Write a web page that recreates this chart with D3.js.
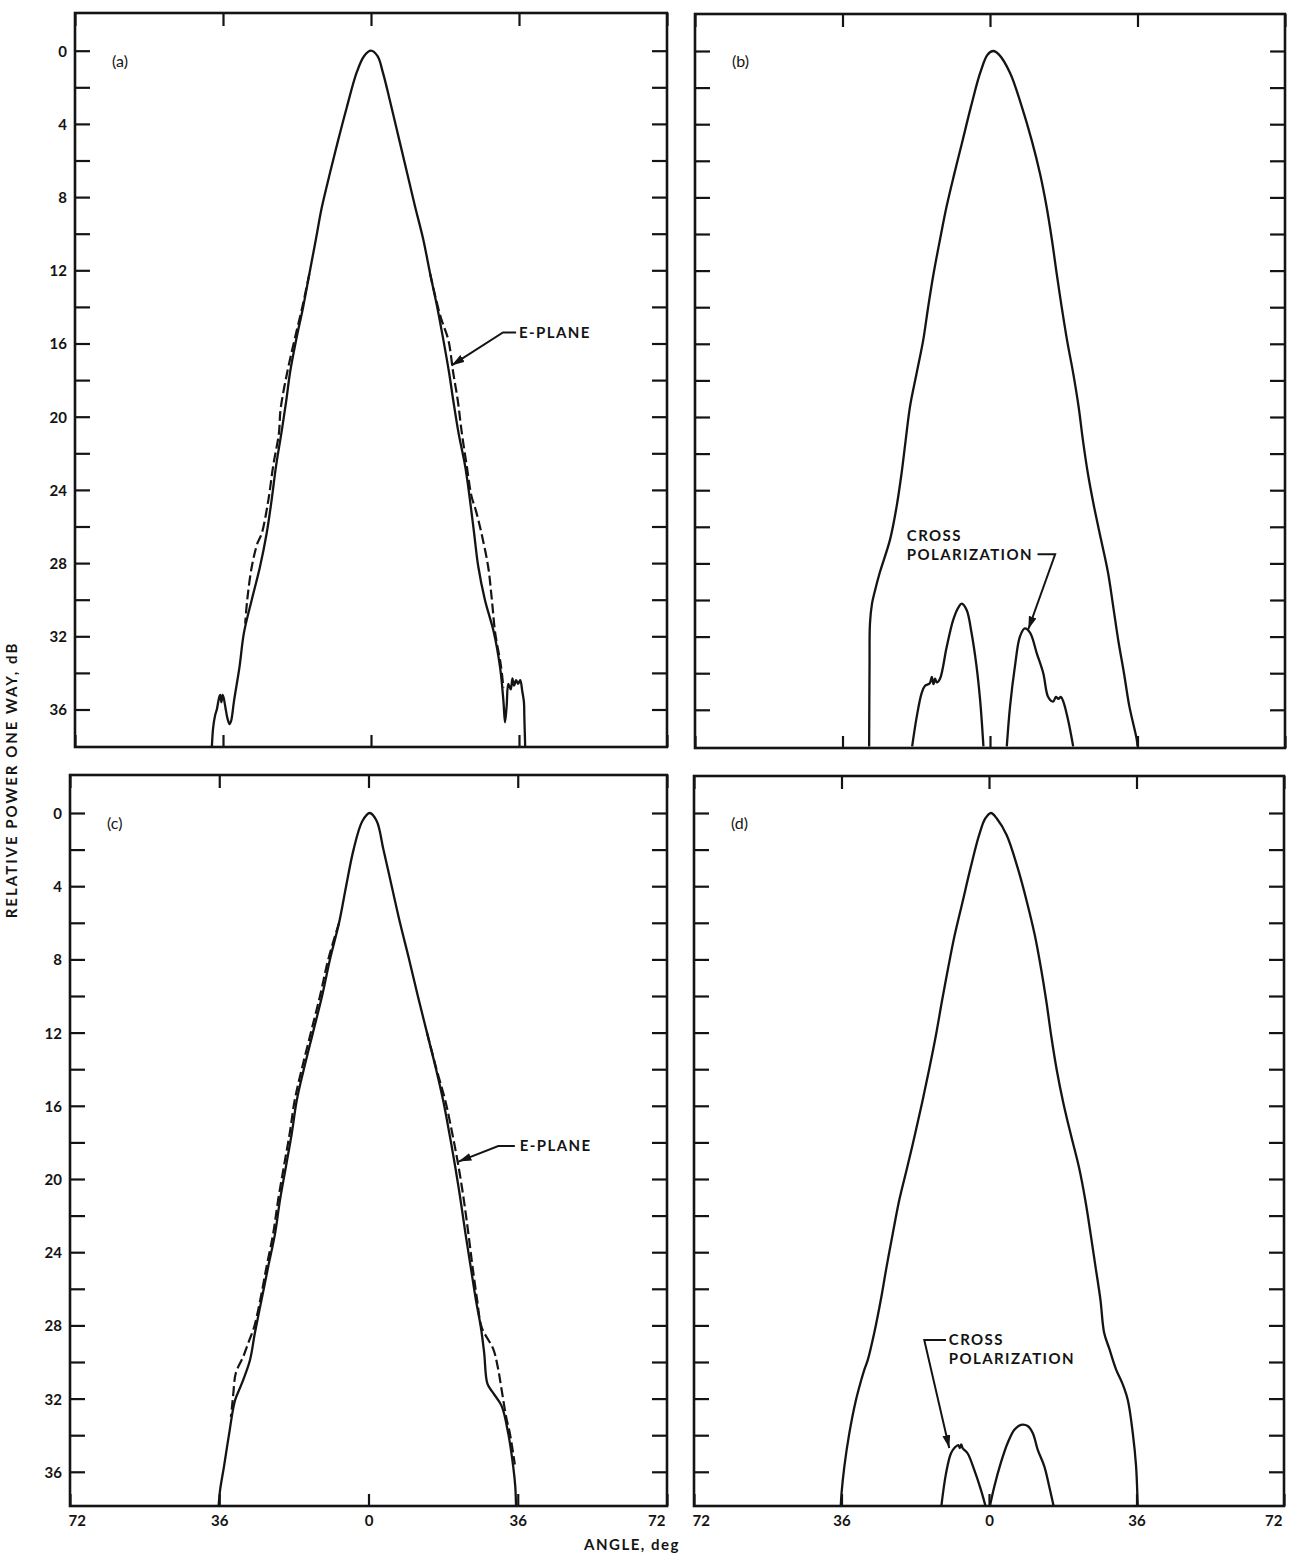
<!DOCTYPE html>
<html>
<head>
<meta charset="utf-8">
<script src="https://cdn.jsdelivr.net/npm/d3@7/dist/d3.min.js"></script>
<style>
  body { margin: 0; background: #fff; }
  svg text { font-family: Lato, "DejaVu Sans", sans-serif; font-weight: 700; fill: #141414; }
</style>
</head>
<body>
<script>
// axis values
const angleTicks = [-72, -36, 0, 36, 72];
const angleLabels = ["72", "36", "0", "36", "72"];
const dbTicks = [0, 2, 4, 6, 8, 10, 12, 14, 16, 18, 20, 22, 24, 26, 28, 30, 32, 34, 36];
const dbLabels = [0, 4, 8, 12, 16, 20, 24, 28, 32, 36];

// (a) main pattern (solid) and E-plane (dashed), [angle deg, dB down]
const aMain = [[-38.7,38.0],[-38.4,37.0],[-37.9,36.3],[-37.5,36.0],[-37.0,35.4],[-36.7,35.2],[-36.4,35.6],
  [-36.1,35.2],[-35.8,35.4],[-35.4,35.9],[-34.9,36.5],[-34.4,36.8],[-34.0,36.6],[-33.3,35.5],[-32.0,33.7],
  [-30.9,31.8],[-29.0,30.0],[-27.0,28.2],[-25.4,26.4],[-24.2,24.6],[-23.1,22.7],[-21.8,20.9],[-20.6,19.1],
  [-19.7,17.6],[-18.2,15.8],[-16.5,14.0],[-15.0,12.2],[-13.4,10.3],[-12.0,8.6],[-10.0,6.7],[-8.0,4.9],
  [-5.9,3.1],[-3.5,1.2],[-1.7,0.3],[0.0,0.0],[1.6,0.3],[2.9,1.2],[5.0,3.1],[6.9,4.9],[8.8,6.7],[10.7,8.5],
  [12.7,10.3],[14.4,12.2],[16.1,14.0],[17.6,15.8],[19.0,17.6],[20.0,19.1],[21.3,20.9],[22.9,22.7],[24.1,24.6],
  [25.1,26.4],[26.1,28.2],[27.7,30.0],[29.9,31.8],[31.4,33.7],[32.2,35.5],[32.6,36.7],[33.0,35.8],[33.4,34.6],
  [34.0,34.9],[34.4,34.3],[34.8,34.7],[35.3,34.4],[35.8,34.6],[36.3,34.4],[36.8,35.0],[37.2,35.6],[37.3,36.4],
  [37.5,38.0]];
const aEPlaneLeft = [[-15.0,12.2],[-16.7,14.0],[-18.6,15.8],[-20.4,17.6],[-22.0,19.6],[-22.4,20.9],[-23.8,22.7],
  [-25.0,24.6],[-26.6,26.4],[-27.6,26.9],[-29.0,28.2],[-30.1,30.0],[-30.6,31.3]];
const aEPlaneRight = [[14.4,12.2],[15.4,13.2],[17.0,14.6],[18.8,15.8],[20.0,17.6],[21.1,19.1],[22.1,20.9],
  [23.3,22.7],[24.4,24.3],[25.6,25.2],[26.9,26.4],[28.5,28.2],[29.4,30.0],[30.2,31.8],[31.6,33.6],[32.2,34.8]];

// (b) main pattern and cross polarization lobes
const bMain = [[-29.5,38.0],[-29.4,33.5],[-29.3,31.3],[-28.8,30.2],[-28.2,29.6],[-26.9,28.5],[-24.4,26.7],
  [-22.8,24.9],[-21.6,23.1],[-20.6,21.3],[-19.5,19.4],[-17.9,17.6],[-16.3,15.8],[-15.1,14.0],[-13.8,12.2],
  [-12.2,10.3],[-10.6,8.5],[-8.7,6.7],[-6.7,4.9],[-4.6,3.0],[-2.4,1.2],[-0.6,0.2],[0.8,0.0],[2.2,0.2],
  [4.9,1.2],[7.7,3.0],[10.2,4.9],[12.2,6.7],[13.8,8.5],[15.1,10.3],[16.3,12.2],[17.5,14.0],[18.8,15.8],
  [20.3,17.6],[21.6,19.4],[22.7,21.3],[23.9,23.1],[25.4,24.9],[27.1,26.7],[28.8,28.5],[30.1,30.4],
  [31.3,32.2],[32.7,34.0],[34.0,35.8],[35.8,37.6],[36.0,38.0]];
const bCrossLeft = [[-19.0,38.0],[-17.9,36.4],[-16.7,35.1],[-15.9,34.7],[-14.7,34.55],[-14.2,34.2],[-13.8,34.6],
  [-13.4,34.3],[-13.0,34.5],[-12.2,34.3],[-10.6,32.6],[-9.0,31.1],[-7.7,30.4],[-6.9,30.2],[-5.7,30.55],
  [-4.5,31.8],[-3.3,33.6],[-2.4,35.5],[-1.6,38.0]];
const bCrossRight = [[4.1,38.0],[4.9,35.8],[6.1,33.6],[7.3,32.0],[8.5,31.55],[9.8,31.8],[11.4,32.9],[13.0,34.0],
  [14.2,35.3],[15.4,35.55],[16.1,35.3],[16.7,35.4],[17.3,35.3],[17.9,35.55],[19.1,36.6],[20.3,38.0]];

// (c) main pattern (solid) and E-plane (dashed)
const cMain = [[-36.2,38.0],[-35.8,37.0],[-34.85,35.7],[-33.6,33.9],[-32.2,32.1],[-30.6,31.2],[-28.6,29.9],
  [-27.4,28.4],[-25.8,26.6],[-24.2,24.8],[-22.55,23.0],[-21.35,21.15],[-19.9,19.3],[-18.5,17.5],[-17.3,15.7],
  [-15.6,14.0],[-13.4,12.0],[-11.2,10.0],[-9.3,8.0],[-7.1,6.0],[-5.4,4.0],[-3.6,2.0],[-1.5,0.45],[0.3,0.0],
  [2.0,0.45],[3.6,2.0],[5.6,4.0],[7.6,6.0],[9.8,8.0],[11.9,10.0],[14.1,12.0],[16.3,14.0],[18.0,15.7],
  [19.5,17.5],[20.9,19.3],[22.2,21.15],[23.4,23.0],[24.65,24.8],[25.9,26.6],[27.1,28.1],[27.9,29.5],
  [28.7,31.2],[30.1,31.7],[32.1,32.4],[33.7,33.9],[34.9,35.7],[35.4,36.8],[35.6,38.0]];
const cEPlaneLeft = [[-7.1,6.0],[-9.7,8.0],[-11.7,10.0],[-13.9,12.0],[-16.1,14.0],[-17.8,15.7],[-19.0,17.5],
  [-20.4,19.3],[-21.8,21.15],[-23.0,23.0],[-24.6,24.8],[-26.1,26.6],[-27.6,28.1],[-28.9,28.9],[-30.2,29.7],
  [-32.0,30.6],[-32.6,31.7],[-32.9,32.4],[-33.2,33.0]];
const cEPlaneRight = [[14.1,12.0],[16.4,14.0],[18.5,15.7],[20.2,17.5],[21.7,19.3],[23.0,21.15],[24.1,23.0],
  [25.1,24.8],[26.2,26.6],[27.3,28.1],[30.1,29.3],[31.2,30.3],[32.1,31.5],[33.2,33.0],[34.1,33.9],
  [34.9,35.0],[35.3,35.6]];

// (d) main pattern and cross polarization lobes
const dMain = [[-36.2,38.0],[-36.0,37.2],[-35.3,35.7],[-34.1,33.9],[-32.5,32.1],[-31.2,31.0],[-30.4,30.4],
  [-29.6,29.9],[-28.0,28.4],[-26.4,26.6],[-25.0,24.8],[-23.5,23.0],[-21.9,21.15],[-20.0,19.4],[-18.1,17.6],
  [-16.3,15.8],[-14.6,14.0],[-13.0,12.2],[-11.5,10.3],[-10.0,8.5],[-8.4,6.7],[-6.5,4.9],[-4.5,3.0],[-2.4,1.2],
  [-0.9,0.3],[0.5,0.0],[1.9,0.3],[4.3,1.2],[7.0,3.0],[9.3,4.9],[11.2,6.7],[12.7,8.5],[14.0,10.3],[15.2,12.2],
  [16.5,14.0],[18.1,15.8],[20.0,17.6],[22.0,19.4],[23.5,21.15],[24.8,23.0],[26.0,24.8],[27.2,26.6],
  [28.1,28.4],[29.4,29.3],[31.0,30.4],[32.6,31.2],[33.9,32.1],[35.1,33.9],[35.9,35.7],[36.3,37.8],[36.35,38.0]];
const dCrossLeft = [[-11.7,38.0],[-10.5,36.1],[-9.3,35.0],[-8.3,34.66],[-7.5,34.54],[-7.1,34.7],[-6.8,34.5],
  [-6.4,34.72],[-5.2,35.0],[-3.6,35.9],[-1.95,37.0],[-0.7,38.0]];
const dCrossRight = [[0.1,38.0],[1.3,36.8],[2.9,35.5],[4.6,34.4],[6.2,33.7],[7.8,33.44],[9.45,33.5],
  [10.7,33.9],[11.9,34.8],[13.5,35.7],[14.7,36.8],[15.9,38.0]];

// annotations: label lines, text anchor, leader (tie -> elbow -> tip) in [angle, dB]
const aNote = { lines: ["E-PLANE"], text: [36.0, 15.4], leader: [[35.3,15.4],[32.1,15.4],[19.6,17.2]] };
const bNote = { lines: ["CROSS", "POLARIZATION"], text: [-20.3, 26.5], leader: [[11.6,27.5],[15.9,27.5],[9.35,31.6]] };
const cNote = { lines: ["E-PLANE"], text: [36.5, 18.2], leader: [[35.3,18.2],[31.3,18.2],[21.7,19.05]] };
const dNote = { lines: ["CROSS", "POLARIZATION"], text: [-9.8, 28.8], leader: [[-10.5,28.8],[-15.8,28.8],[-9.7,34.7]] };

const W = 1289, H = 1562;
const pxPerDb = 18.3;

const panels = [
  { tag: "(a)", x0: 75, x1: 667, y0: 13, y1: 747, zero: 50.7, left: true, bottom: false,
    curves: [{ d: aMain }, { d: aEPlaneLeft, dash: true }, { d: aEPlaneRight, dash: true }], note: aNote },
  { tag: "(b)", x0: 695, x1: 1285, y0: 14, y1: 748, zero: 51, left: false, bottom: false,
    curves: [{ d: bMain }, { d: bCrossLeft }, { d: bCrossRight }], note: bNote },
  { tag: "(c)", x0: 70, x1: 667, y0: 775, y1: 1506, zero: 813, left: true, bottom: true,
    curves: [{ d: cMain }, { d: cEPlaneLeft, dash: true }, { d: cEPlaneRight, dash: true }], note: cNote },
  { tag: "(d)", x0: 694, x1: 1284, y0: 776, y1: 1506, zero: 813, left: false, bottom: true,
    curves: [{ d: dMain }, { d: dCrossLeft }, { d: dCrossRight }], note: dNote }
];

const svg = d3.select("body").append("svg")
  .attr("width", W)
  .attr("height", H);

svg.append("rect").attr("width", W).attr("height", H).attr("fill", "#fff");

const defs = svg.append("defs");
defs.append("marker")
  .attr("id", "arrow")
  .attr("markerUnits", "userSpaceOnUse")
  .attr("markerWidth", 14).attr("markerHeight", 10)
  .attr("refX", 13).attr("refY", 4)
  .attr("orient", "auto")
  .append("path")
  .attr("d", "M0,0 L13,4 L0,8 Z")
  .attr("fill", "#141414");

panels.forEach(function(p, i) {
  const x = d3.scaleLinear().domain([-72, 72]).range([p.x0, p.x1]);
  const y = d3.scaleLinear().domain([0, 36]).range([p.zero, p.zero + 36 * pxPerDb]);
  const g = svg.append("g");

  // clip so the traces stop at the frame
  defs.append("clipPath").attr("id", "clip" + i)
    .append("rect")
    .attr("x", p.x0).attr("y", p.y0)
    .attr("width", p.x1 - p.x0).attr("height", p.y1 - p.y0);

  // inside ticks on the four sides
  const leftAxis = g.append("g")
    .attr("transform", "translate(" + p.x0 + ",0)")
    .call(d3.axisLeft(y).tickValues(dbTicks).tickSize(-15).tickPadding(8)
      .tickFormat(d => (p.left && dbLabels.includes(d)) ? d : ""));
  g.append("g")
    .attr("transform", "translate(" + p.x1 + ",0)")
    .call(d3.axisRight(y).tickValues(dbTicks).tickSize(-15).tickFormat(""));
  g.append("g")
    .attr("transform", "translate(0," + p.y0 + ")")
    .call(d3.axisTop(x).tickValues(angleTicks).tickSize(-13).tickFormat(""));
  const bottomAxis = g.append("g")
    .attr("transform", "translate(0," + p.y1 + ")")
    .call(d3.axisBottom(x).tickValues(angleTicks).tickSize(-12).tickPadding(9)
      .tickFormat((d, k) => p.bottom ? angleLabels[k] : ""));

  g.selectAll(".domain").remove();
  g.selectAll(".tick line").attr("stroke", "#141414").attr("stroke-width", 2.2);
  g.selectAll(".tick text").style("font-size", "15px").attr("fill", "#141414");
  leftAxis.selectAll(".tick text").attr("dy", "0.36em");
  bottomAxis.selectAll(".tick text")
    .attr("text-anchor", (d, k) => k === 0 ? "start" : (k === 4 ? "end" : "middle"))
    .attr("dx", (d, k) => k === 0 ? -2 : (k === 4 ? -2 : 0));

  // frame
  g.append("rect")
    .attr("x", p.x0).attr("y", p.y0)
    .attr("width", p.x1 - p.x0).attr("height", p.y1 - p.y0)
    .attr("fill", "none")
    .attr("stroke", "#141414")
    .attr("stroke-width", 2.6);

  // traces
  const line = d3.line()
    .x(d => x(d[0]))
    .y(d => y(d[1]))
    .curve(d3.curveCatmullRom.alpha(0.5));

  g.append("g").attr("clip-path", "url(#clip" + i + ")")
    .selectAll("path")
    .data(p.curves)
    .enter().append("path")
    .attr("d", c => line(c.d))
    .attr("fill", "none")
    .attr("stroke", "#141414")
    .attr("stroke-width", c => c.dash ? 2.2 : 2.3)
    .attr("stroke-linejoin", "round")
    .attr("stroke-dasharray", c => c.dash ? "10,4" : null);

  // panel tag
  g.append("text")
    .attr("x", p.x0 + 37)
    .attr("y", p.zero + 16)
    .style("font-size", "16px")
    .style("font-weight", "400")
    .text(p.tag);

  // annotation with arrow
  const n = p.note;
  g.append("path")
    .attr("d", d3.line().x(d => x(d[0])).y(d => y(d[1]))(n.leader))
    .attr("fill", "none")
    .attr("stroke", "#141414")
    .attr("stroke-width", 2)
    .attr("marker-end", "url(#arrow)");
  g.append("g").selectAll("text")
    .data(n.lines)
    .enter().append("text")
    .attr("x", x(n.text[0]))
    .attr("y", (d, k) => y(n.text[1]) + k * 19)
    .attr("dy", "0.36em")
    .style("font-size", "15px")
    .style("letter-spacing", "1.4px")
    .text(d => d);
});

// axis titles
svg.append("text")
  .attr("transform", "translate(17,780) rotate(-90)")
  .attr("text-anchor", "middle")
  .style("font-size", "15px")
  .style("letter-spacing", "2px")
  .text("RELATIVE POWER ONE WAY, dB");

svg.append("text")
  .attr("x", 632)
  .attr("y", 1550)
  .attr("text-anchor", "middle")
  .style("font-size", "15px")
  .style("letter-spacing", "1.5px")
  .text("ANGLE, deg");
</script>
</body>
</html>
